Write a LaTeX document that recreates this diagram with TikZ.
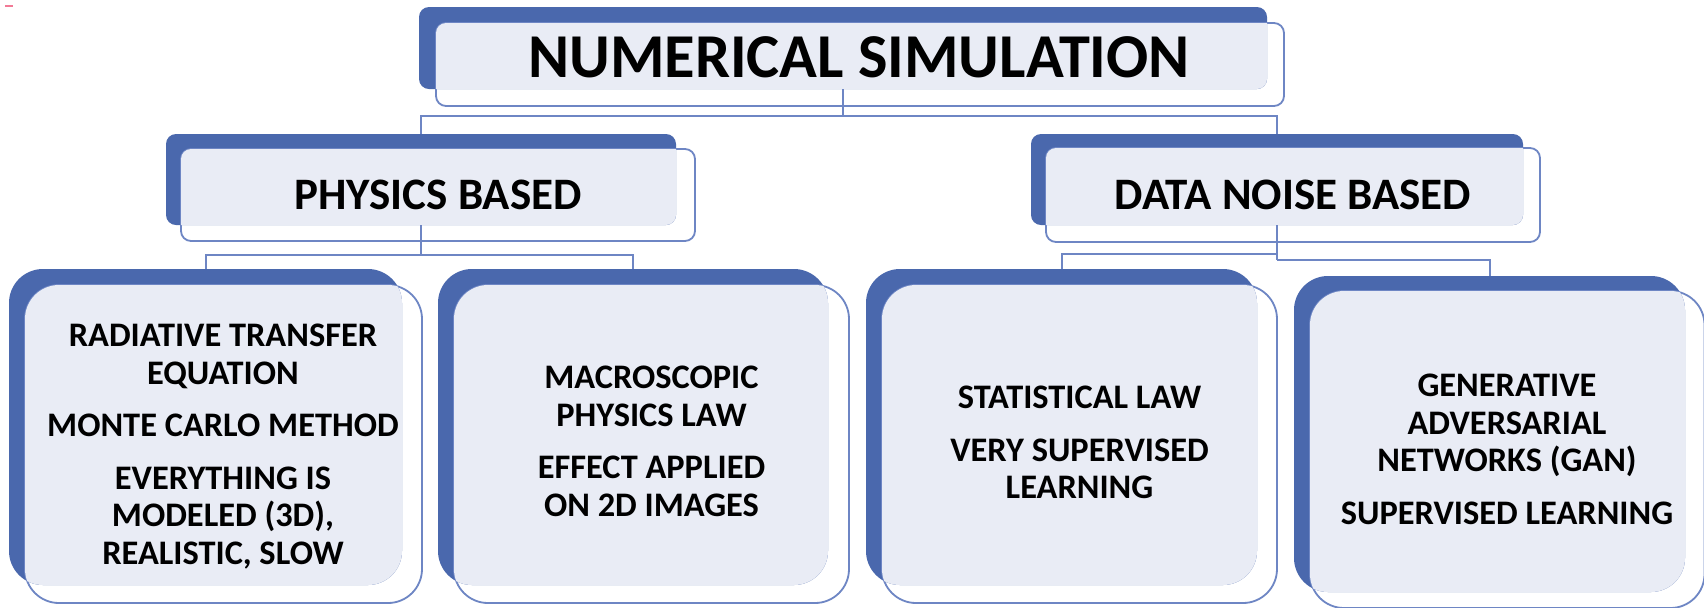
\documentclass[tikz,border=0pt]{standalone}
\usepackage{fontspec}
\setmainfont{Carlito}
\usetikzlibrary{fit}
\definecolor{bblue}{HTML}{4A68AD}
\definecolor{lfill}{HTML}{E9ECF5}
\definecolor{lline}{HTML}{6E86C4}
\definecolor{pinkm}{HTML}{F27A96}
\begin{document}
\begin{tikzpicture}[x=0.5pt,y=-0.5pt,
  backbox/.style={fill=bblue,draw=none,inner sep=0pt,outer sep=0pt},
  frontbox/.style={draw=lline,line width=0.9pt,fill=none,inner sep=0pt,outer sep=0pt},
  smallr/.style={rounded corners=5pt},
  bigr/.style={rounded corners=17pt},
  conn/.style={draw=lline,line width=1pt},
  txt/.style={inner sep=0pt,outer sep=0pt,align=center,anchor=north,text=black},
  fT/.style={font=\fontsize{31.2}{37}\selectfont\bfseries},
  fM/.style={font=\fontsize{22.5}{27}\selectfont\bfseries},
  fS/.style={font=\fontsize{17.2}{18.8}\selectfont\bfseries}]
\useasboundingbox (0,0) rectangle (1704,607);
\fill[white] (0,0) rectangle (1704,607);
\draw[pinkm,line width=0.8pt] (5,6) -- (13,6);

% light fill = intersection of back and front
\newcommand\lightfill[3]{%
  \begin{scope}
    \clip[#3] (#1.north west) rectangle (#1.south east);
    \fill[lfill,#3] (#2.north west) rectangle (#2.south east);
  \end{scope}}

% top
\node[backbox,smallr,fit={(419,7) (1267,89)}] (topB) {};
\node[frontbox,smallr,fit={(436,23) (1284,106)}] (topF) {};
\lightfill{topB}{topF}{smallr}
\node[txt,fT] (topT) at (859,37) {NUMERICAL SIMULATION};

% physics
\node[backbox,smallr,fit={(166,134) (676,225)}] (physB) {};
\node[frontbox,smallr,fit={(181,149) (695,241)}] (physF) {};
\lightfill{physB}{physF}{smallr}
\node[txt,fM] (physT) at (438,180) {PHYSICS BASED};

% data
\node[backbox,smallr,fit={(1031,134) (1523,225)}] (dataB) {};
\node[frontbox,smallr,fit={(1046,148) (1540,242)}] (dataF) {};
\lightfill{dataB}{dataF}{smallr}
\node[txt,fM] (dataT) at (1293,180) {DATA NOISE BASED};

% box A
\node[backbox,bigr,fit={(9,269) (402,585)}] (aB) {};
\node[frontbox,bigr,fit={(25,285) (422,603)}] (aF) {};
\lightfill{aB}{aF}{bigr}
\node[txt,fS] (aT) at (223,324) {RADIATIVE TRANSFER\\EQUATION\\[7.5pt]MONTE CARLO METHOD\\[7.5pt]EVERYTHING IS\\MODELED (3D),\\REALISTIC, SLOW};

% box B
\node[backbox,bigr,fit={(438,269) (828,585)}] (bB) {};
\node[frontbox,bigr,fit={(454,285) (849,603)}] (bF) {};
\lightfill{bB}{bF}{bigr}
\node[txt,fS] (bT) at (651.5,366) {MACROSCOPIC\\PHYSICS LAW\\[7.5pt]EFFECT APPLIED\\ON 2D IMAGES};

% box C
\node[backbox,bigr,fit={(866,269) (1257,585)}] (cB) {};
\node[frontbox,bigr,fit={(882,285) (1277,603)}] (cF) {};
\lightfill{cB}{cF}{bigr}
\node[txt,fS] (cT) at (1079.5,386) {STATISTICAL LAW\\[7.5pt]VERY SUPERVISED\\LEARNING};

% box D
\node[backbox,bigr,fit={(1294,276) (1685,592)}] (dB) {};
\node[frontbox,bigr,fit={(1310,291) (1704.5,608)}] (dF) {};
\lightfill{dB}{dF}{bigr}
\node[txt,fS] (dT) at (1507,374) {GENERATIVE\\ADVERSARIAL\\NETWORKS (GAN)\\[7.5pt]SUPERVISED LEARNING};

% connectors
\coordinate (j1) at (843,116);
\coordinate (j2) at (421,255);
\coordinate (j3) at (1277,254);
\coordinate (j4) at (1277,260);
\draw[conn] (topB.south) -- (j1);
\draw[conn] (physB.north) |- (j1) -| (dataB.north);
\draw[conn] (physB.south) -- (j2);
\draw[conn] (aB.north) |- (j2) -| (bB.north);
\draw[conn] (dataB.south) -- (j4);
\draw[conn] (cB.north) |- (j3);
\draw[conn] (j4) -| (dB.north);
\end{tikzpicture}
\end{document}
